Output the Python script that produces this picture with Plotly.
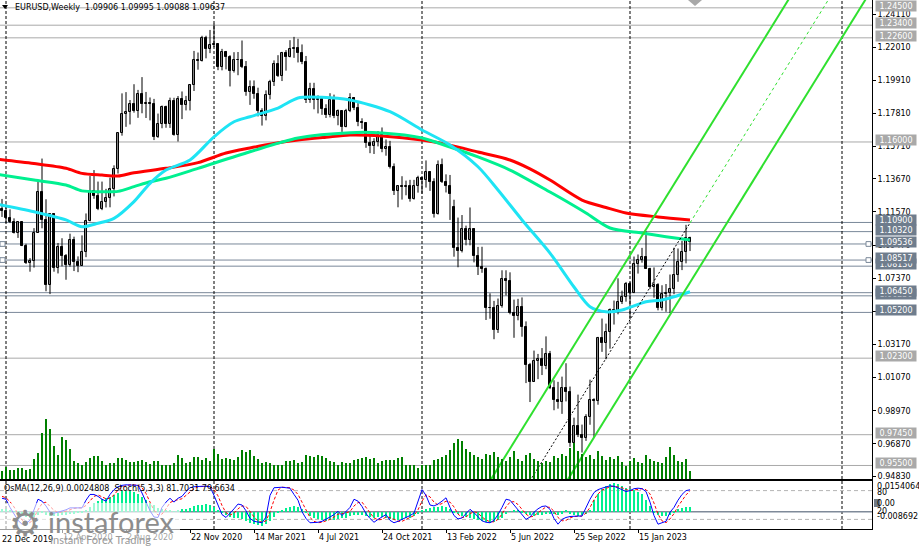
import pandas as pd
import plotly.graph_objects as go

# ---------------- data (weekly EURUSD, first bar = week of 29 Dec 2019) ----------------
first_week = "2019-12-29"

opens = [
    1.1175, 1.1162, 1.1120, 1.1090, 1.1025, 1.1093, 1.0944, 1.0830, 1.0847, 1.1025,
    1.1284, 1.1106, 1.0692, 1.1142, 1.0803, 1.0935, 1.0875, 1.0822, 1.0980, 1.0842,
    1.0817, 1.0902, 1.1102, 1.1290, 1.1255, 1.1177, 1.1220, 1.1247, 1.1300, 1.1428,
    1.1656, 1.1778, 1.1790, 1.1843, 1.1794, 1.1902, 1.1839, 1.1845, 1.1838, 1.1631,
    1.1715, 1.1824, 1.1717, 1.1860, 1.1646, 1.1875, 1.1833, 1.1857, 1.1962, 1.2121,
    1.2113, 1.2256, 1.2188, 1.2215, 1.2219, 1.2077, 1.2171, 1.2136, 1.2047, 1.2120,
    1.2118, 1.2076, 1.1917, 1.1951, 1.1904, 1.1795, 1.1763, 1.1899, 1.1983, 1.2097,
    1.2020, 1.2163, 1.2141, 1.2190, 1.2193, 1.2167, 1.2107, 1.1864, 1.1937, 1.1865,
    1.1874, 1.1809, 1.1770, 1.1868, 1.1762, 1.1795, 1.1697, 1.1795, 1.1880, 1.1813,
    1.1726, 1.1720, 1.1596, 1.1572, 1.1600, 1.1645, 1.1558, 1.1567, 1.1444, 1.1289,
    1.1318, 1.1315, 1.1318, 1.1239, 1.1321, 1.1370, 1.1360, 1.1412, 1.1344, 1.1145,
    1.1454, 1.1349, 1.1321, 1.1190, 1.0929, 1.0911, 1.1047, 1.0982, 1.1049, 1.0877,
    1.0807, 1.0795, 1.0545, 1.0551, 1.0410, 1.0562, 1.0733, 1.0719, 1.0518, 1.0495,
    1.0554, 1.0425, 1.0184, 1.0082, 1.0212, 1.0222, 1.0180, 1.0257, 1.0038, 0.9964,
    0.9953, 1.0040, 1.0015, 0.9690, 0.9802, 0.9740, 0.9722, 0.9860, 0.9965, 0.9960,
    1.0355, 1.0325, 1.0398, 1.0535, 1.0531, 1.0584, 1.0615, 1.0702, 1.0643, 1.0827,
    1.0855, 1.0869, 1.0796, 1.0678, 1.0694, 1.0546, 1.0634, 1.0640, 1.0669, 1.0760,
    1.0840, 1.0900, 1.09906,
]
highs = [
    1.1239, 1.1205, 1.1173, 1.1116, 1.1096, 1.1095, 1.0955, 1.0864, 1.1054, 1.1356,
    1.1495, 1.1237, 1.1147, 1.1148, 1.0960, 1.0990, 1.0890, 1.1019, 1.1000, 1.0875,
    1.1008, 1.1147, 1.1384, 1.1422, 1.1349, 1.1349, 1.1303, 1.1374, 1.1452, 1.1659,
    1.1908, 1.1916, 1.1866, 1.1966, 1.1930, 1.2011, 1.1917, 1.1882, 1.1873, 1.1780,
    1.1831, 1.1830, 1.1881, 1.1880, 1.1891, 1.1920, 1.1892, 1.1966, 1.2177, 1.2167,
    1.2273, 1.2273, 1.2310, 1.2349, 1.2223, 1.2190, 1.2177, 1.2150, 1.2169, 1.2170,
    1.2243, 1.2113, 1.1990, 1.1990, 1.1944, 1.1814, 1.1927, 1.1994, 1.2117, 1.2150,
    1.2171, 1.2182, 1.2245, 1.2266, 1.2254, 1.2218, 1.2145, 1.1975, 1.1975, 1.1895,
    1.1880, 1.1839, 1.1909, 1.1900, 1.1806, 1.1800, 1.1810, 1.1909, 1.1885, 1.1846,
    1.1750, 1.1725, 1.1640, 1.1624, 1.1669, 1.1692, 1.1616, 1.1607, 1.1464, 1.1324,
    1.1383, 1.1355, 1.1360, 1.1360, 1.1386, 1.1376, 1.1483, 1.1415, 1.1370, 1.1483,
    1.1495, 1.1395, 1.1391, 1.1234, 1.1121, 1.1137, 1.1070, 1.1185, 1.1054, 1.0935,
    1.0936, 1.0805, 1.0641, 1.0593, 1.0608, 1.0787, 1.0787, 1.0774, 1.0601, 1.0606,
    1.0615, 1.0463, 1.0200, 1.0278, 1.0257, 1.0294, 1.0368, 1.0276, 1.0090, 1.0080,
    1.0113, 1.0198, 1.0050, 0.9853, 0.9999, 0.9809, 0.9875, 1.0094, 0.9976, 1.0365,
    1.0481, 1.0449, 1.0545, 1.0595, 1.0736, 1.0658, 1.0713, 1.0713, 1.0874, 1.0887,
    1.0929, 1.1033, 1.0803, 1.0805, 1.0705, 1.0692, 1.0700, 1.0760, 1.0930, 1.0925,
    1.0973, 1.1075, 1.09995,
]
lows = [
    1.1125, 1.1086, 1.1086, 1.1020, 1.0992, 1.0940, 1.0827, 1.0778, 1.0804, 1.1023,
    1.1053, 1.0654, 1.0636, 1.0778, 1.0767, 1.0812, 1.0727, 1.0810, 1.0782, 1.0775,
    1.0815, 1.0870, 1.1097, 1.1240, 1.1168, 1.1168, 1.1185, 1.1186, 1.1255, 1.1400,
    1.1640, 1.1696, 1.1711, 1.1786, 1.1753, 1.1782, 1.1752, 1.1737, 1.1612, 1.1626,
    1.1687, 1.1690, 1.1689, 1.1640, 1.1603, 1.1745, 1.1800, 1.1800, 1.1923, 1.2058,
    1.2110, 1.2130, 1.2163, 1.2201, 1.2055, 1.2054, 1.2060, 1.1952, 1.2040, 1.2023,
    1.2068, 1.1893, 1.1835, 1.1874, 1.1762, 1.1704, 1.1737, 1.1870, 1.1955, 1.2012,
    1.1986, 1.2052, 1.2136, 1.2133, 1.2104, 1.2093, 1.1847, 1.1848, 1.1807, 1.1781,
    1.1772, 1.1752, 1.1756, 1.1751, 1.1706, 1.1664, 1.1693, 1.1789, 1.1802, 1.1700,
    1.1683, 1.1563, 1.1529, 1.1524, 1.1572, 1.1535, 1.1513, 1.1432, 1.1264, 1.1186,
    1.1235, 1.1262, 1.1222, 1.1235, 1.1279, 1.1272, 1.1311, 1.1290, 1.1121, 1.1140,
    1.1340, 1.1280, 1.1106, 1.0873, 1.0806, 1.0900, 1.0945, 1.0945, 1.0837, 1.0757,
    1.0771, 1.0472, 1.0480, 1.0350, 1.0390, 1.0550, 1.0627, 1.0508, 1.0359, 1.0470,
    1.0366, 1.0072, 0.9952, 1.0080, 1.0097, 1.0123, 1.0160, 1.0034, 0.9900, 0.9910,
    0.9877, 0.9956, 0.9668, 0.9536, 0.9730, 0.9632, 0.9706, 0.9808, 0.9730, 0.9935,
    1.0270, 1.0223, 1.0290, 1.0443, 1.0508, 1.0573, 1.0588, 1.0483, 1.0642, 1.0766,
    1.0835, 1.0795, 1.0669, 1.0613, 1.0533, 1.0532, 1.0524, 1.0516, 1.0635, 1.0714,
    1.0788, 1.0831, 1.09088,
]
closes = [
    1.1162, 1.1120, 1.1090, 1.1025, 1.1093, 1.0944, 1.0830, 1.0847, 1.1025, 1.1284,
    1.1106, 1.0692, 1.1142, 1.0803, 1.0935, 1.0875, 1.0822, 1.0980, 1.0842, 1.0817,
    1.0902, 1.1102, 1.1290, 1.1255, 1.1177, 1.1220, 1.1247, 1.1300, 1.1428, 1.1656,
    1.1778, 1.1790, 1.1843, 1.1794, 1.1902, 1.1839, 1.1845, 1.1838, 1.1631, 1.1715,
    1.1824, 1.1717, 1.1860, 1.1646, 1.1875, 1.1833, 1.1857, 1.1962, 1.2121, 1.2113,
    1.2256, 1.2188, 1.2215, 1.2219, 1.2077, 1.2171, 1.2136, 1.2047, 1.2120, 1.2118,
    1.2076, 1.1917, 1.1951, 1.1904, 1.1795, 1.1763, 1.1899, 1.1983, 1.2097, 1.2020,
    1.2163, 1.2141, 1.2190, 1.2193, 1.2167, 1.2107, 1.1864, 1.1937, 1.1865, 1.1874,
    1.1809, 1.1770, 1.1868, 1.1762, 1.1795, 1.1697, 1.1795, 1.1880, 1.1813, 1.1726,
    1.1720, 1.1596, 1.1572, 1.1600, 1.1645, 1.1558, 1.1567, 1.1444, 1.1289, 1.1318,
    1.1315, 1.1318, 1.1239, 1.1321, 1.1370, 1.1360, 1.1412, 1.1344, 1.1145, 1.1454,
    1.1349, 1.1321, 1.1271, 1.0929, 1.0911, 1.1047, 1.0982, 1.1049, 1.0877, 1.0807,
    1.0795, 1.0545, 1.0551, 1.0410, 1.0562, 1.0733, 1.0719, 1.0518, 1.0495, 1.0554,
    1.0425, 1.0184, 1.0082, 1.0212, 1.0222, 1.0180, 1.0257, 1.0038, 0.9964, 0.9953,
    1.0040, 1.0015, 0.9690, 0.9802, 0.9740, 0.9722, 0.9860, 0.9965, 0.9960, 1.0355,
    1.0325, 1.0398, 1.0535, 1.0531, 1.0584, 1.0615, 1.0702, 1.0643, 1.0827, 1.0855,
    1.0869, 1.0796, 1.0678, 1.0694, 1.0546, 1.0634, 1.0640, 1.0669, 1.0760, 1.0840,
    1.0900, 1.0992, 1.09637,
]
volumes = [
    8, 12, 9, 9, 11, 11, 9, 10, 20, 26,
    46, 60, 50, 33, 24, 42, 39, 30, 18, 16,
    14, 17, 21, 23, 23, 18, 14, 16, 16, 21,
    21, 19, 17, 17, 18, 19, 17, 15, 18, 18,
    14, 14, 14, 16, 24, 21, 16, 17, 22, 22,
    19, 21, 18, 30, 25, 20, 21, 20, 19, 22,
    29, 27, 29, 23, 20, 16, 17, 16, 14, 14,
    14, 18, 18, 19, 16, 17, 24, 23, 22, 24,
    23, 21, 18, 17, 14, 17, 16, 16, 19, 20,
    21, 22, 20, 21, 16, 18, 19, 19, 19, 21,
    22, 14, 14, 14, 11, 14, 14, 14, 19, 20,
    22, 24, 29, 36, 40, 38, 30, 27, 24, 22,
    20, 25, 24, 27, 22, 20, 18, 22, 28, 20,
    18, 24, 26, 20, 18, 16, 18, 17, 23, 21,
    25, 23, 31, 36, 28, 25, 22, 24, 20, 28,
    23, 19, 22, 20, 23, 17, 13, 18, 21, 17,
    16, 24, 20, 18, 17, 16, 22, 32, 24, 18,
    17, 20, 8,
]
osma = [
    0.0015, 0.0012, 0.0008, 0.0003, -0.0010, -0.0018, -0.0025, -0.0030, -0.0025, -0.0015,
    -0.0005, -0.0015, -0.0020, -0.0022, -0.0020, -0.0018, -0.0015, -0.0012, -0.0010, -0.0008,
    -0.0003, 0.0008, 0.0025, 0.0042, 0.0055, 0.0062, 0.0068, 0.0075, 0.0085, 0.0095,
    0.0102, 0.0104, 0.0103, 0.0098, 0.0088, 0.0075, 0.0060, 0.0045, 0.0032, 0.0020,
    0.0012, 0.0006, 0.0004, 0.0002, 0.0008, 0.0012, 0.0016, 0.0020, 0.0027, 0.0032,
    0.0035, 0.0037, 0.0032, 0.0022, 0.0008, -0.0008, -0.0018, -0.0025, -0.0030, -0.0032,
    -0.0035, -0.0045, -0.0055, -0.0063, -0.0068, -0.0070, -0.0062, -0.0045, -0.0028, -0.0008,
    0.0008, 0.0018, 0.0025, 0.0028, 0.0025, 0.0015, -0.0005, -0.0020, -0.0030, -0.0038,
    -0.0042, -0.0045, -0.0043, -0.0040, -0.0036, -0.0033, -0.0030, -0.0024, -0.0018, -0.0015,
    -0.0017, -0.0022, -0.0028, -0.0030, -0.0028, -0.0027, -0.0030, -0.0035, -0.0042, -0.0043,
    -0.0040, -0.0034, -0.0030, -0.0023, -0.0012, 0.0004, 0.0013, 0.0018, 0.0022, 0.0026,
    0.0027, 0.0024, 0.0014, -0.0004, -0.0014, -0.0020, -0.0026, -0.0030, -0.0035, -0.0040,
    -0.0045, -0.0050, -0.0055, -0.0053, -0.0043, -0.0030, -0.0012, 0.0003, 0.0006, 0.0004,
    -0.0004, -0.0012, -0.0018, -0.0020, -0.0018, -0.0015, -0.0012, -0.0010, -0.0012, -0.0015,
    -0.0010, 0.0004, -0.0010, -0.0018, -0.0020, -0.0018, -0.0012, 0.0010, 0.0060, 0.0090,
    0.0115, 0.0130, 0.0140, 0.0143, 0.0138, 0.0130, 0.0120, 0.0115, 0.0108, 0.0098,
    0.0087, 0.0060, 0.0030, -0.0005, -0.0015, -0.0020, -0.0020, -0.0015, -0.0008, 0.0012,
    0.0020, 0.0025, 0.0024808,
]
stoch_main = [
    64, 62, 45, 30, 18, 10, 12, 18, 40, 62,
    58, 48, 35, 33, 35, 37, 40, 44, 44, 44,
    44, 60, 72, 72, 68, 62, 58, 72, 82, 88,
    91, 92, 92, 91, 91, 75, 55, 38, 25, 24,
    45, 56, 64, 56, 64, 68, 78, 86, 88, 89,
    89, 89, 88, 70, 48, 30, 24, 32, 42, 52,
    50, 38, 22, 16, 14, 13, 25, 70, 86, 87,
    87, 86, 85, 72, 60, 36, 22, 13, 13, 14,
    16, 20, 25, 30, 37, 28, 36, 45, 62, 58,
    47, 32, 22, 14, 20, 25, 30, 18, 13, 16,
    20, 23, 28, 33, 60, 82, 70, 50, 48, 52,
    58, 65, 45, 28, 21, 23, 32, 41, 34, 25,
    17, 14, 13, 18, 30, 45, 62, 60, 50, 42,
    30, 20, 25, 35, 42, 47, 48, 41, 22, 10,
    20, 24, 26, 27, 27, 27, 45, 62, 76, 82,
    85, 88, 90, 89, 86, 82, 78, 80, 84, 85,
    84, 78, 56, 28, 10, 13, 16, 35, 45, 60,
    72, 80, 81.7031,
]
stoch_signal = [
    68, 65, 57, 46, 31, 19, 13, 13, 23, 40,
    53, 56, 47, 39, 34, 35, 37, 40, 43, 44,
    44, 49, 59, 68, 71, 67, 63, 64, 71, 81,
    87, 90, 92, 92, 91, 86, 74, 56, 39, 29,
    31, 42, 55, 59, 61, 63, 70, 77, 84, 88,
    89, 89, 89, 82, 69, 49, 34, 29, 33, 42,
    48, 47, 37, 25, 17, 14, 17, 36, 60, 81,
    87, 87, 86, 81, 72, 56, 39, 24, 16, 13,
    14, 17, 20, 25, 31, 32, 34, 36, 48, 55,
    56, 46, 34, 23, 19, 20, 25, 24, 20, 16,
    16, 20, 24, 28, 40, 58, 71, 67, 56, 50,
    53, 58, 56, 46, 31, 24, 25, 32, 36, 33,
    25, 19, 15, 15, 20, 31, 46, 56, 57, 51,
    41, 31, 25, 27, 34, 41, 46, 45, 37, 24,
    17, 18, 23, 26, 27, 27, 33, 45, 61, 73,
    81, 85, 88, 89, 88, 86, 82, 80, 81, 83,
    84, 82, 73, 54, 31, 17, 13, 21, 32, 47,
    59, 71, 79.6634,
]

ma_red_dates = ["2019-12-22", "2020-02-23", "2020-04-19", "2020-05-17", "2020-06-21", "2020-07-19",
                "2020-08-16", "2020-10-11", "2020-12-06", "2021-01-24", "2021-03-07", "2021-04-18",
                "2021-05-30", "2021-07-18", "2021-08-29", "2021-10-24", "2022-01-02", "2022-02-20",
                "2022-04-10", "2022-06-05", "2022-07-10", "2022-08-14", "2022-10-09", "2022-11-20",
                "2022-12-25", "2023-02-19", "2023-04-16"]
ma_red_vals = [1.1490, 1.1463, 1.1433, 1.1401, 1.1390, 1.1384, 1.1405, 1.1433, 1.1469, 1.1530,
               1.1562, 1.1590, 1.1612, 1.1630, 1.1644, 1.1638, 1.1612, 1.1580, 1.1536, 1.1486,
               1.1430, 1.1359, 1.1232, 1.1185, 1.1150, 1.1125, 1.1106]
ma_green_dates = ["2019-12-22", "2020-02-23", "2020-04-19", "2020-05-17", "2020-06-21", "2020-07-19",
                  "2020-08-16", "2020-09-13", "2020-10-11", "2020-12-06", "2021-03-07", "2021-05-30",
                  "2021-08-29", "2021-10-24", "2022-01-02", "2022-02-20", "2022-04-10", "2022-06-05",
                  "2022-08-14", "2022-09-04", "2022-10-16", "2022-11-27", "2023-01-22", "2023-03-05",
                  "2023-04-16"]
ma_green_vals = [1.1395, 1.1359, 1.1327, 1.1290, 1.1285, 1.1287, 1.1317, 1.1348, 1.1370, 1.1433,
                 1.1538, 1.1625, 1.1659, 1.1657, 1.1625, 1.1568, 1.1505, 1.1422, 1.1283, 1.1240,
                 1.1150, 1.1055, 1.1023, 1.1000, 1.0979]
ma_cyan_dates = ["2019-12-22", "2020-02-23", "2020-04-19", "2020-05-17", "2020-06-14", "2020-07-12",
                 "2020-08-16", "2020-09-13", "2020-10-11", "2020-11-22", "2021-01-03", "2021-02-07",
                 "2021-03-07", "2021-04-25", "2021-05-30", "2021-07-11", "2021-08-29", "2021-11-07",
                 "2022-01-02", "2022-02-20", "2022-04-10", "2022-05-15", "2022-06-26", "2022-08-14",
                 "2022-09-25", "2022-10-23", "2022-11-20", "2022-12-18", "2023-01-29", "2023-02-26",
                 "2023-04-16"]
ma_cyan_vals = [1.1205, 1.1158, 1.1106, 1.1063, 1.1085, 1.1116, 1.1222, 1.1338, 1.1422, 1.1486,
                1.1633, 1.1728, 1.1760, 1.1815, 1.1879, 1.1883, 1.1866, 1.1792, 1.1676, 1.1581,
                1.1443, 1.1296, 1.1106, 1.0896, 1.0681, 1.0556, 1.0524, 1.0535, 1.0588, 1.0599,
                1.0651]

# rising channel (trend-line anchors)
channel_low_dates = ["2022-04-24", "2023-11-05"]
channel_low_vals = [0.9411, 1.2681]
channel_high_dates = ["2022-09-11", "2024-03-24"]
channel_high_vals = [0.9442, 1.2712]
channel_mid_dates = ["2022-07-10", "2023-04-16"]
channel_mid_vals = [0.9452, 1.1087]
channel_ext_dates = ["2023-04-16", "2024-03-24"]
channel_ext_vals = [1.1087, 1.3090]

# horizontal levels
level_prices = [1.08130, 1.06250, 1.24500, 1.23400, 1.22600, 1.16000, 1.10900, 1.10320,
                1.09536, 1.08517, 1.06450, 1.05200, 1.02300, 0.97450, 0.95500]
level_kind = ["slate", "slate", "light", "light", "light", "light", "slate", "slate",
              "slate", "slate", "slate", "slate", "light", "light", "light"]
marked_levels = [1.09536, 1.08517]

price_ticks = [1.24110, 1.22010, 1.19910, 1.17810, 1.15710, 1.13670, 1.11570, 1.09470,
               1.07370, 1.05270, 1.03170, 1.01070, 0.98970, 0.96870, 0.94830]
date_ticks = ["2020-04-12", "2020-08-02", "2020-11-22", "2021-03-14", "2021-07-04", "2021-10-24",
              "2022-02-13", "2022-06-05", "2022-09-25", "2023-01-15"]
date_tick_text = ["12 Apr 2020", "2 Aug 2020", "22 Nov 2020", "14 Mar 2021", "4 Jul 2021",
                  "24 Oct 2021", "13 Feb 2022", "5 Jun 2022", "25 Sep 2022", "15 Jan 2023"]
first_date_label = "22 Dec 2019"
year_separators = ["2020-01-05", "2021-01-03", "2022-01-02", "2023-01-01", "2024-01-07"]

header_text = "EURUSD,Weekly  1.09906 1.09995 1.09088 1.09637"
osc_header = "OsMA(12,26,9) 0.0024808  Stoch(5,3,3) 81.7031 79.6634"
osma_range = [-0.008692, 0.0154064]
stoch_levels = [80, 20]

n = len(closes)
assert all(len(a) == n for a in [opens, highs, lows, volumes, osma, stoch_main, stoch_signal])

# ---------------- geometry ----------------
W, H = 919, 548
PR, PB = 872, 529          # plot-area right edge and bottom (px)
MAIN_H = 479               # main panel height (px)
OSC_TOP = 481
main_dom = [1 - MAIN_H / PB, 1]
osc_dom = [0, (PB - OSC_TOP) / PB]
x_range = ["2019-12-25 12:00", "2024-02-28 12:00"]
price_range = [0.94643, 1.24997]


def px(x):
    return x / PR


def py(y):
    return (PB - y) / PB


dates = pd.date_range(first_week, periods=n, freq="7D")
WEEK_MS = 7 * 24 * 3600 * 1000
FONT = "DejaVu Sans"

fig = go.Figure()

# candle wicks
wx, wy = [], []
for d, hi, lo in zip(dates, highs, lows):
    wx += [d, d, None]
    wy += [lo, hi, None]
fig.add_trace(go.Scatter(x=wx, y=wy, mode="lines", line=dict(color="black", width=1),
                         hoverinfo="skip", xaxis="x", yaxis="y"))

# candle bodies
for bull in (True, False):
    idx = [i for i in range(n) if (closes[i] >= opens[i]) == bull]
    fig.add_trace(go.Bar(
        x=[dates[i] for i in idx],
        y=[abs(closes[i] - opens[i]) for i in idx],
        base=[min(opens[i], closes[i]) for i in idx],
        width=0.5 * WEEK_MS,
        marker=dict(color="white" if bull else "black", line=dict(color="black", width=1)),
        hoverinfo="skip", xaxis="x", yaxis="y"))

# moving averages
for dts, vals, col in [(ma_red_dates, ma_red_vals, "#ff0000"),
                       (ma_green_dates, ma_green_vals, "#00f090"),
                       (ma_cyan_dates, ma_cyan_vals, "#1ee4f4")]:
    fig.add_trace(go.Scatter(x=dts, y=vals, mode="lines",
                             line=dict(color=col, width=3, shape="spline", smoothing=0.8),
                             hoverinfo="skip", xaxis="x", yaxis="y"))

# channel
for dts, vals in [(channel_low_dates, channel_low_vals), (channel_high_dates, channel_high_vals)]:
    fig.add_trace(go.Scatter(x=dts, y=vals, mode="lines", line=dict(color="#2fe02f", width=2),
                             hoverinfo="skip", xaxis="x", yaxis="y"))
fig.add_trace(go.Scatter(x=channel_mid_dates, y=channel_mid_vals, mode="lines",
                         line=dict(color="black", width=1, dash="2px,2px"),
                         hoverinfo="skip", xaxis="x", yaxis="y"))
fig.add_trace(go.Scatter(x=channel_ext_dates, y=channel_ext_vals, mode="lines",
                         line=dict(color="#2fe02f", width=1, dash="3px,3px"),
                         hoverinfo="skip", xaxis="x", yaxis="y"))

# volumes (overlay axis on main panel)
fig.add_trace(go.Bar(x=dates, y=volumes, width=0.3 * WEEK_MS, marker=dict(color="#008000", line_width=0),
                     hoverinfo="skip", xaxis="x", yaxis="y3"))

# oscillator panel
fig.add_trace(go.Bar(x=dates, y=osma, width=0.6 * WEEK_MS, marker=dict(color="#00f090", line_width=0),
                     hoverinfo="skip", xaxis="x2", yaxis="y2"))
fig.add_trace(go.Scatter(x=dates, y=stoch_signal, mode="lines",
                         line=dict(color="#ff0000", width=1, dash="3px,2px"),
                         hoverinfo="skip", xaxis="x2", yaxis="y4"))
fig.add_trace(go.Scatter(x=dates, y=stoch_main, mode="lines", line=dict(color="#0000ff", width=1),
                         hoverinfo="skip", xaxis="x2", yaxis="y4"))

shapes = []
# horizontal levels
for p, k in zip(level_prices, level_kind):
    shapes.append(dict(type="line", xref="paper", yref="y", x0=0, x1=1, y0=p, y1=p, layer="below",
                       line=dict(color="#a9a9a9" if k == "light" else "#7a8899", width=1)))
for p in marked_levels:
    for a, b in [(866, 871), (0, 5)]:
        shapes.append(dict(type="rect", xref="paper", yref="y", x0=px(a), x1=px(b),
                           y0=p - 0.0015, y1=p + 0.0015, fillcolor="white",
                           line=dict(color="#7a8899", width=1), layer="above"))
# year separators
for d in year_separators:
    shapes.append(dict(type="line", xref="x", yref="paper", x0=d, x1=d, y0=0, y1=1, layer="below",
                       line=dict(color="black", width=1, dash="3px,2px")))
# oscillator levels
shapes.append(dict(type="line", xref="paper", yref="y2", x0=0, x1=1, y0=0, y1=0, layer="below",
                   line=dict(color="#7f8a99", width=1.5)))
for lv in stoch_levels:
    shapes.append(dict(type="line", xref="paper", yref="y4", x0=0, x1=1, y0=lv, y1=lv, layer="below",
                       line=dict(color="#b4b4b4", width=1, dash="4px,3px")))
# header triangle and shift marker
shapes.append(dict(type="path", xref="paper", yref="paper",
                   path=f"M {px(2)},{py(5)} L {px(8)},{py(5)} L {px(5)},{py(9)} Z",
                   fillcolor="black", line_width=0))
shapes.append(dict(type="path", xref="paper", yref="paper",
                   path=f"M {px(688)},{py(0)} L {px(702)},{py(0)} L {px(695)},{py(6)} Z",
                   fillcolor="#a8a8a8", line_width=0))
# small box behind 0.00
shapes.append(dict(type="rect", xref="paper", yref="paper", x0=px(874), x1=px(880),
                   y0=py(507), y1=py(499), fillcolor="#707a86", line_width=0))
# logo wash
shapes.append(dict(type="rect", xref="paper", yref="paper", x0=0, x1=px(180), y0=py(548), y1=py(503),
                   fillcolor="rgba(255,255,255,0.62)", line_width=0, layer="above"))

ann = []
for p, k in zip(level_prices, level_kind):
    ann.append(dict(xref="paper", yref="y", x=1, y=p, xanchor="left", yanchor="middle", xshift=3, yshift=2,
                    text=f"{p:.5f}", showarrow=False, width=38, height=8, borderpad=1, align="center",
                    bgcolor="#a9a9a9" if k == "light" else "#6f7d8d",
                    font=dict(family=FONT, size=8, color="white")))
ann.append(dict(xref="paper", yref="paper", x=px(13), y=py(7), xanchor="left", yanchor="middle",
                text=header_text, showarrow=False, font=dict(family=FONT, size=8, color="black")))
ann.append(dict(xref="paper", yref="paper", x=px(2), y=py(488), xanchor="left", yanchor="middle",
                text=osc_header, showarrow=False, font=dict(family=FONT, size=8, color="black")))
for t, yy in [("0.0154064", 486.5), ("80", 492), ("0.00", 503.5), ("20", 511), ("-0.008692", 516.5)]:
    ann.append(dict(xref="paper", yref="paper", x=px(875), y=py(yy), xanchor="left", yanchor="middle",
                    text=t, showarrow=False, font=dict(family=FONT, size=8, color="black")))
ann.append(dict(xref="paper", yref="paper", x=0, y=py(539), xanchor="left", yanchor="middle",
                text=first_date_label, showarrow=False, font=dict(family=FONT, size=8, color="black")))
# logo
ann.append(dict(xref="paper", yref="paper", x=px(25), y=py(523), xanchor="center", yanchor="middle",
                text="⚙", showarrow=False, font=dict(family="DejaVu Sans", size=36, color="#8d8d8d")))
ann.append(dict(xref="paper", yref="paper", x=px(46), y=py(521), xanchor="left", yanchor="middle",
                text="instaforex", showarrow=False, font=dict(family="Lato", size=29, color="#8d8d8d")))
ann.append(dict(xref="paper", yref="paper", x=px(48), y=py(539), xanchor="left", yanchor="middle",
                text="Instant Forex Trading", showarrow=False, font=dict(family="Lato", size=11, color="#9a9a9a")))

fig.update_layout(
    width=W, height=H, margin=dict(l=0, r=W - PR, t=0, b=H - PB),
    paper_bgcolor="white", plot_bgcolor="white", showlegend=False,
    barmode="overlay", bargap=0, hovermode=False,
    font=dict(family=FONT, size=8, color="black"),
    xaxis=dict(type="date", range=x_range, domain=[0, 1], anchor="y", showticklabels=False, ticks="",
               showgrid=False, zeroline=False, showline=True, linecolor="black", linewidth=1),
    xaxis2=dict(type="date", range=x_range, domain=[0, 1], anchor="y2", matches="x",
                tickmode="array", tickvals=date_ticks, ticktext=date_tick_text,
                ticks="outside", ticklen=3, tickcolor="black", ticklabelposition="outside right",
                tickfont=dict(family=FONT, size=8, color="black"),
                showgrid=False, zeroline=False, showline=True, linecolor="black", linewidth=1, mirror=True),
    yaxis=dict(domain=main_dom, range=price_range, side="right", anchor="x",
               tickmode="array", tickvals=price_ticks, ticktext=[f"{v:.5f}" for v in price_ticks],
               ticks="outside", ticklen=3, tickcolor="black",
               tickfont=dict(family=FONT, size=8, color="black"),
               showgrid=False, zeroline=False, showline=True, linecolor="black", linewidth=1),
    yaxis3=dict(overlaying="y", anchor="x", range=[0, MAIN_H], visible=False),
    yaxis2=dict(domain=osc_dom, range=osma_range, side="right", anchor="x2", showticklabels=False,
                ticks="", showgrid=False, zeroline=False, showline=True, linecolor="black", linewidth=1),
    yaxis4=dict(overlaying="y2", anchor="x2", range=[0, 100], visible=False),
    shapes=shapes, annotations=ann,
)

fig.write_html("out.html", config={"displayModeBar": False})
